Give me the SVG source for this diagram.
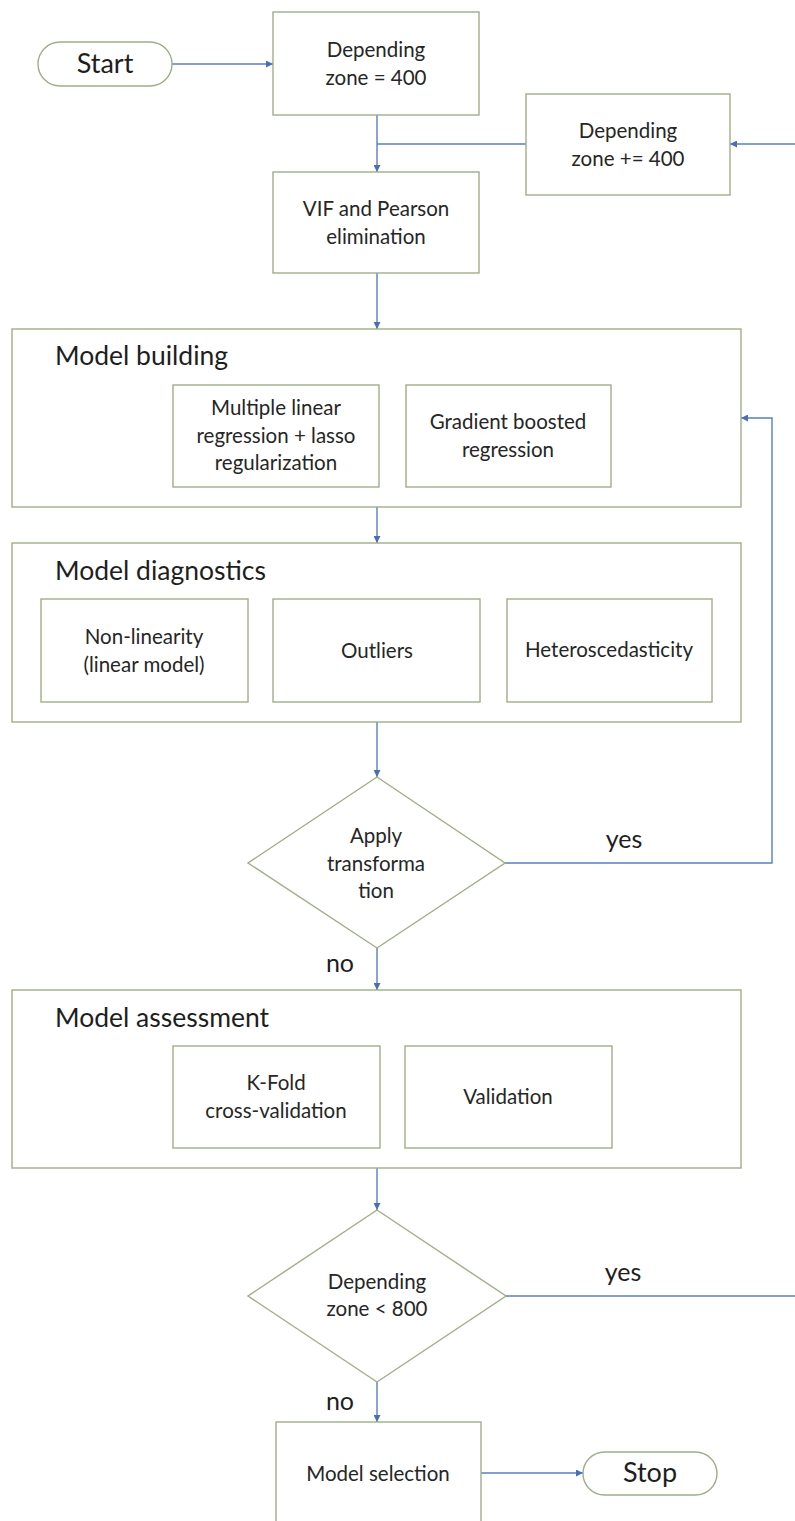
<svg xmlns="http://www.w3.org/2000/svg" width="795" height="1521" viewBox="0 0 795 1521">
  <style>
    .box { fill: #ffffff; stroke: #9fae86; stroke-width: 1.4; }
    .txt { font-family: "Lato", "Liberation Sans", sans-serif; font-size: 20.5px; fill: #262626; text-anchor: middle; }
    .title { font-family: "Lato", "Liberation Sans", sans-serif; font-size: 26.5px; fill: #1e1e1e; }
    .term { font-family: "Lato", "Liberation Sans", sans-serif; font-size: 27px; fill: #1e1e1e; text-anchor: middle; }
    .lbl { font-family: "Lato", "Liberation Sans", sans-serif; font-size: 25px; fill: #1e1e1e; text-anchor: middle; }
    .wire { fill: none; stroke: #5b7fbf; stroke-width: 1.4; }
    .arrow { fill: none; stroke: #5b7fbf; stroke-width: 1.4; marker-end: url(#head); }
  </style>
  <defs>
    <marker id="head" viewBox="0 0 10 10" refX="10" refY="5" markerWidth="7" markerHeight="7" markerUnits="userSpaceOnUse" orient="auto">
      <path d="M0,0 L10,5 L0,10 z" fill="#4a6fb5"/>
    </marker>
  </defs>
  <rect width="795" height="1521" fill="#ffffff"/>

  <!-- connectors -->
  <g id="connectors">
    <path class="arrow" d="M172,64 H273"/>
    <path class="arrow" d="M377,115 V172"/>
    <path class="wire" d="M526,144 H377"/>
    <path class="arrow" d="M795,144 H730"/>
    <path class="arrow" d="M377,273 V329"/>
    <path class="arrow" d="M377,507 V543"/>
    <path class="arrow" d="M377,722 V777"/>
    <path class="arrow" d="M505,863 H772 V418 H741"/>
    <path class="arrow" d="M377,948 V990"/>
    <path class="arrow" d="M377,1168 V1210"/>
    <path class="wire" d="M506,1296 H795"/>
    <path class="arrow" d="M377,1382 V1422"/>
    <path class="arrow" d="M481,1473 H583"/>
  </g>

  <!-- terminals -->
  <g id="start">
    <rect class="box" x="38" y="42" width="134" height="44" rx="22" ry="22"/>
    <text class="term" x="105" y="73">Start</text>
  </g>
  <g id="stop">
    <rect class="box" x="583" y="1452" width="134" height="43" rx="21.5" ry="21.5"/>
    <text class="term" x="650" y="1482">Stop</text>
  </g>

  <!-- process steps -->
  <g id="zone-init">
    <rect class="box" x="273" y="12" width="206" height="103"/>
    <text class="txt" x="376" y="57">Depending</text>
    <text class="txt" x="376" y="85">zone = 400</text>
  </g>
  <g id="zone-step">
    <rect class="box" x="526" y="94" width="204" height="101"/>
    <text class="txt" x="628" y="138">Depending</text>
    <text class="txt" x="628" y="166">zone += 400</text>
  </g>
  <g id="elimination">
    <rect class="box" x="273" y="172" width="206" height="101"/>
    <text class="txt" x="376" y="216">VIF and Pearson</text>
    <text class="txt" x="376" y="244">elimination</text>
  </g>

  <!-- model building -->
  <g id="model-building">
    <rect class="box" x="12" y="329" width="729" height="178"/>
    <text class="title" x="55" y="365">Model building</text>
  </g>
  <g id="mlr-lasso">
    <rect class="box" x="173" y="385" width="206" height="102"/>
    <text class="txt" x="276" y="415">Multiple linear</text>
    <text class="txt" x="276" y="443">regression + lasso</text>
    <text class="txt" x="276" y="470">regularization</text>
  </g>
  <g id="gbr">
    <rect class="box" x="406" y="385" width="205" height="102"/>
    <text class="txt" x="508" y="429">Gradient boosted</text>
    <text class="txt" x="508" y="457">regression</text>
  </g>

  <!-- model diagnostics -->
  <g id="model-diagnostics">
    <rect class="box" x="12" y="543" width="729" height="179"/>
    <text class="title" x="55" y="580">Model diagnostics</text>
  </g>
  <g id="non-linearity">
    <rect class="box" x="41" y="599" width="207" height="103"/>
    <text class="txt" x="144" y="644">Non-linearity</text>
    <text class="txt" x="144" y="672">(linear model)</text>
  </g>
  <g id="outliers">
    <rect class="box" x="273" y="599" width="207" height="103"/>
    <text class="txt" x="377" y="658">Outliers</text>
  </g>
  <g id="heteroscedasticity">
    <rect class="box" x="507" y="599" width="205" height="103"/>
    <text class="txt" x="609" y="657">Heteroscedasticity</text>
  </g>

  <!-- transformation decision -->
  <g id="apply-transformation">
    <polygon class="box" points="377,777 505,863 377,948 248,863"/>
    <text class="txt" x="376" y="843">Apply</text>
    <text class="txt" x="376" y="871">transforma</text>
    <text class="txt" x="376" y="898">tion</text>
  </g>
  <g id="yes-1"><text class="lbl" x="624" y="848">yes</text></g>
  <g id="no-1"><text class="lbl" x="340" y="972">no</text></g>

  <!-- model assessment -->
  <g id="model-assessment">
    <rect class="box" x="12" y="990" width="729" height="178"/>
    <text class="title" x="55" y="1027">Model assessment</text>
  </g>
  <g id="k-fold">
    <rect class="box" x="173" y="1046" width="207" height="102"/>
    <text class="txt" x="276" y="1090">K-Fold</text>
    <text class="txt" x="276" y="1118">cross-validation</text>
  </g>
  <g id="validation">
    <rect class="box" x="405" y="1046" width="207" height="102"/>
    <text class="txt" x="508" y="1104">Validation</text>
  </g>

  <!-- zone decision -->
  <g id="zone-check">
    <polygon class="box" points="377,1210 506,1296 377,1382 248,1296"/>
    <text class="txt" x="377" y="1289">Depending</text>
    <text class="txt" x="377" y="1316">zone &lt; 800</text>
  </g>
  <g id="yes-2"><text class="lbl" x="623" y="1281">yes</text></g>
  <g id="no-2"><text class="lbl" x="340" y="1410">no</text></g>

  <!-- final step -->
  <g id="model-selection">
    <rect class="box" x="276" y="1422" width="205" height="110"/>
    <text class="txt" x="378" y="1481">Model selection</text>
  </g>
</svg>
